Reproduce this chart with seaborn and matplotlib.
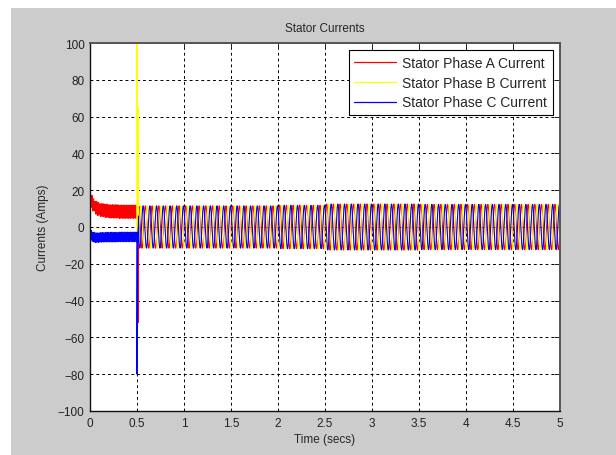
import numpy as np
import pandas as pd
import seaborn as sns
import matplotlib
matplotlib.use("Agg")
import matplotlib.pyplot as plt
from matplotlib.patches import Rectangle

# ---- values ----
freq_hz = 14.0          # apparent oscillation rate after the step
ripple_hz = 60.0        # ripple rate before the step
dt = 0.0005             # sample step (s)

# before the step at 0.5 s: band centre and ripple, per time bin
pre_edges = [0.0, 0.025, 0.05, 0.075, 0.1, 0.15, 0.2, 0.3, 0.4, 0.5]
a_mean_pre = [14.0, 12.0, 10.5, 9.8, 9.2, 8.8, 8.5, 8.3, 8.3]
a_ripple_pre = [3.3, 3.3, 3.5, 3.5, 3.5, 3.6, 3.6, 3.6, 3.6]
c_mean_pre = [-4.5, -5.5, -5.8, -5.8, -5.6, -5.5, -5.5, -5.4, -5.4]
c_ripple_pre = [2.6, 2.6, 2.6, 2.6, 2.6, 2.6, 2.6, 2.6, 2.6]
b_ripple_pre = 1.5

# the step at 0.5 s
spike_t = [0.500, 0.505, 0.511, 0.516]
spike_a = [8.0, 8.0, -52.0, 0.0]
spike_b = [110.0, 0.0, 65.0, -5.0]
spike_c = [-80.0, -5.0, -8.0, 6.0]

# after the step: peak amplitude per half-second bin
post_edges = [0.52, 1.0, 1.5, 2.0, 2.5, 3.0, 3.5, 4.0, 4.5, 5.0]
amp_post = [11.5, 11.5, 11.5, 11.8, 12.5, 12.5, 12.3, 12.3, 12.3]

names = ["Stator Phase A Current", "Stator Phase B Current", "Stator Phase C Current"]
colors = ["#ff0000", "#ffff00", "#0000ff"]

# ---- build the traces ----
wr = 2 * np.pi * ripple_hz
t_pre = np.arange(0.0, 0.5, dt)
k = np.clip(np.digitize(t_pre, pre_edges) - 1, 0, len(a_mean_pre) - 1)
a_pre = np.array(a_mean_pre)[k] + np.array(a_ripple_pre)[k] * np.sin(wr * t_pre)
c_pre = np.array(c_mean_pre)[k] + np.array(c_ripple_pre)[k] * np.sin(wr * t_pre + 2.1)
b_pre = np.array(c_mean_pre)[k] + b_ripple_pre * np.sin(wr * t_pre - 2.1)
a_pre[0], b_pre[0], c_pre[0] = 0.0, 0.0, 0.0

w = 2 * np.pi * freq_hz
t_post = np.arange(post_edges[0], 5.0 + dt, dt)
k = np.clip(np.digitize(t_post, post_edges) - 1, 0, len(amp_post) - 1)
amp = np.array(amp_post)[k]
a_post = amp * np.sin(w * t_post)
b_post = amp * np.sin(w * t_post - 2 * np.pi / 3)
c_post = amp * np.sin(w * t_post + 2 * np.pi / 3)

t_all = np.concatenate([t_pre, spike_t, t_post])
traces = {
    names[0]: np.concatenate([a_pre, spike_a, a_post]),
    names[1]: np.concatenate([b_pre, spike_b, b_post]),
    names[2]: np.concatenate([c_pre, spike_c, c_post]),
}
df = pd.concat(
    [pd.DataFrame({"t": t_all, "i": v, "phase": n}) for n, v in traces.items()],
    ignore_index=True,
)

# ---- plot ----
sns.set_style("white")
plt.rcParams["font.family"] = ["Liberation Sans", "DejaVu Sans"]
fs = 8.5

fig = plt.figure(figsize=(6.16, 4.56), dpi=100, facecolor="white")
fig.add_artist(Rectangle((11 / 616, 0), 1, (456 - 9) / 456, linewidth=0,
                         transform=fig.transFigure, color="#cccccc", zorder=-10))
ax = fig.add_axes([90 / 616, 44 / 456, 470 / 616, 368 / 456])

sns.lineplot(data=df, x="t", y="i", hue="phase", palette=colors,
             estimator=None, sort=False, lw=0.8, ax=ax)

ax.set_xlim(0, 5)
ax.set_ylim(-100, 100)
ax.set_xticks(np.arange(0, 5.01, 0.5))
ax.set_xticklabels(["0", "0.5", "1", "1.5", "2", "2.5", "3", "3.5", "4", "4.5", "5"])
ax.set_yticks(np.arange(-100, 101, 20))
ax.grid(True, color="black", linestyle=(0, (3, 3)), linewidth=0.7)
ax.tick_params(direction="in", length=4, width=0.7, top=True, right=True,
               labelsize=fs, colors="#222222", pad=4)
for s in ["left", "bottom"]:
    ax.spines[s].set_color("#111111")
    ax.spines[s].set_linewidth(1.0)
for s in ["top", "right"]:
    ax.spines[s].set_color("#555555")
    ax.spines[s].set_linewidth(1.4)

ax.set_title("Stator Currents", fontsize=fs, pad=9)
ax.set_xlabel("Time (secs)", fontsize=fs, labelpad=3)
ax.set_ylabel("Currents (Amps)", fontsize=fs, labelpad=6)

leg = ax.legend(loc="upper right", title=None, fontsize=10, fancybox=False,
                edgecolor="black", framealpha=1, handlelength=3.0,
                handletextpad=0.45, labelspacing=0.42, borderpad=0.42,
                borderaxespad=0.5)
leg.get_frame().set_linewidth(0.8)
for h in leg.get_lines():
    h.set_linewidth(0.9)

fig.savefig("out.png", dpi=100)
